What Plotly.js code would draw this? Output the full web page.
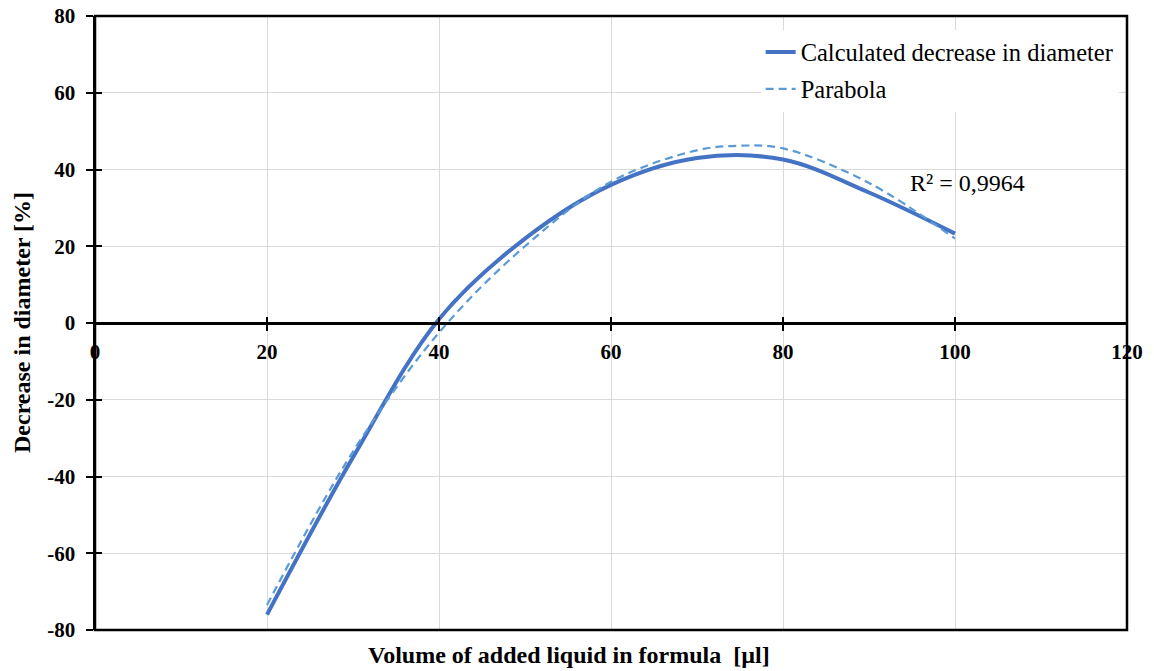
<!DOCTYPE html>
<html>
<head>
<meta charset="utf-8">
<script src="https://cdn.plot.ly/plotly-3.0.1.min.js"></script>
<style>html,body{margin:0;padding:0;background:#fff;}#chart{width:1154px;height:671px;}</style>
</head>
<body>
<div id="chart"></div>
<script>
// Data
const volumeCalc = [20, 30, 40, 50, 60, 70, 80, 90, 100];
const decreaseCalc = [-76, -35, 1, 22, 36, 43, 42.6, 34, 23.3];
const volumeParabola = [20, 30, 40, 50, 60, 70, 75, 80, 90, 100];
const decreaseParabola = [-73.5, -33.5, -2.5, 20, 36.8, 45, 46.2, 45.5, 36.5, 22];
const xTicks = [0, 20, 40, 60, 80, 100, 120];
const yTicks = [-80, -60, -40, -20, 0, 20, 40, 60, 80];
const seriesNames = ["Calculated decrease in diameter", "Parabola"];
const r2Label = "R² = 0,9964";
const xTitle = "Volume of added liquid in formula&nbsp;&nbsp;[µl]";
const yTitle = "Decrease in diameter [%]";

const serif = "Liberation Serif";

const traces = [
  {x: volumeCalc, y: decreaseCalc, name: seriesNames[0], type: "scatter", mode: "lines", legendgroup: "a",
   line: {color: "#4472C4", width: 4, shape: "spline", smoothing: 1}},
  {x: volumeParabola, y: decreaseParabola, name: seriesNames[1], type: "scatter", mode: "lines", legendgroup: "b",
   line: {color: "#5B9BD5", width: 2.2, shape: "spline", smoothing: 1, dash: "8px,5px"}}
];

const layout = {
  width: 1154, height: 671,
  margin: {l: 95, r: 27, t: 16, b: 41},
  paper_bgcolor: "#fff", plot_bgcolor: "#fff",
  font: {family: serif, color: "#000", size: 21},
  showlegend: true,
  legend: {x: 0.645, y: 0.978, xanchor: "left", yanchor: "top", bgcolor: "#fff",
           font: {family: serif, size: 24.5, color: "#000"}, tracegroupgap: 2},
  xaxis: {range: [0, 120], tickvals: xTicks, ticktext: xTicks.map(String),
          anchor: "free", position: 0.5, showline: true, linecolor: "#000", linewidth: 2.5,
          ticks: "outside", ticklen: 6, tickwidth: 2, tickcolor: "#000",
          showgrid: true, gridcolor: "#d9d9d9", gridwidth: 1, zeroline: false,
          tickfont: {family: serif, size: 21, color: "#000", weight: "bold"},
          ticklabelstandoff: 3, fixedrange: true},
  xaxis2: {range: [0, 120], tickvals: xTicks, overlaying: "x", anchor: "free", position: 0.5,
           showline: false, ticks: "inside", ticklen: 6, tickwidth: 2, tickcolor: "#000",
           showticklabels: false, showgrid: false, zeroline: false},
  yaxis: {range: [-80, 80], tickvals: yTicks, ticktext: yTicks.map(v => v < 0 ? "-" + Math.abs(v) : String(v)),
          showline: true, linecolor: "#000", linewidth: 2.5,
          ticks: "outside", ticklen: 7, tickwidth: 2, tickcolor: "#000",
          showgrid: true, gridcolor: "#d9d9d9", gridwidth: 1, zeroline: false,
          tickfont: {family: serif, size: 21, color: "#000", weight: "bold"},
          ticklabelstandoff: 6, fixedrange: true},
  yaxis2: {range: [-80, 80], tickvals: yTicks, overlaying: "y", anchor: "x", side: "left",
           showline: false, ticks: "inside", ticklen: 7, tickwidth: 2, tickcolor: "#000",
           showticklabels: false, showgrid: false, zeroline: false},
  shapes: [
    {type: "rect", xref: "paper", yref: "paper", x0: 0, x1: 1, y0: 0, y1: 1,
     line: {color: "#000", width: 2.5}, layer: "above"}
  ],
  annotations: [
    {xref: "x", yref: "y", x: 94.5, y: 36.5, text: r2Label, showarrow: false,
     xanchor: "left", yanchor: "middle", font: {family: serif, size: 24, color: "#000"}},
    {xref: "paper", yref: "paper", x: 0.459, y: 0, yshift: -25, text: xTitle, showarrow: false,
     xanchor: "center", yanchor: "middle", font: {family: serif, size: 24, color: "#000", weight: "bold"}},
    {xref: "paper", yref: "paper", x: 0, xshift: -73, y: 0.5, text: yTitle, showarrow: false, textangle: -90,
     xanchor: "center", yanchor: "middle", font: {family: serif, size: 24, color: "#000", weight: "bold"}}
  ]
};

// helper traces to activate overlay axes for the crossing tick marks
traces.push({x: [null], y: [null], xaxis: "x2", yaxis: "y", showlegend: false, hoverinfo: "skip"});
traces.push({x: [null], y: [null], xaxis: "x", yaxis: "y2", showlegend: false, hoverinfo: "skip"});

Plotly.newPlot("chart", traces, layout, {displayModeBar: false, staticPlot: true});
</script>
</body>
</html>
